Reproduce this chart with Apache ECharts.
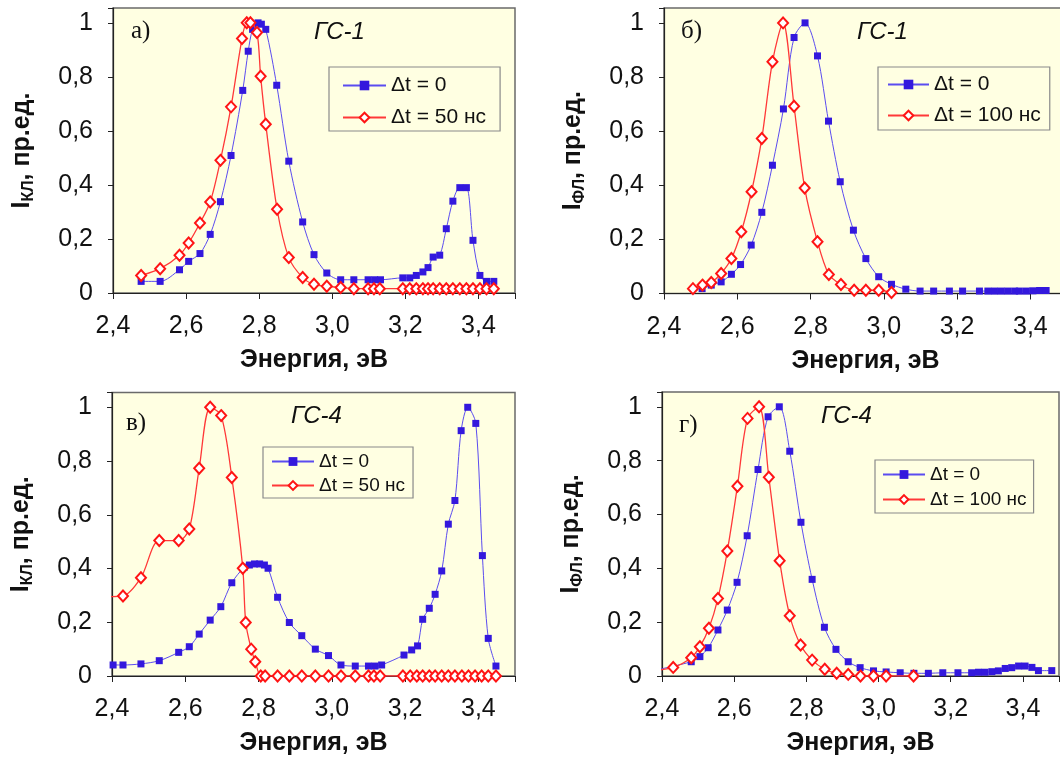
<!DOCTYPE html>
<html><head><meta charset="utf-8">
<script src="https://cdn.jsdelivr.net/npm/echarts@6/dist/echarts.min.js"></script>
<style>html,body{margin:0;padding:0;background:#fff}#c{width:1060px;height:760px}</style>
</head><body><div id="c"></div>
<script>
// ---- Tick labels ----
const xTicks = ['2,4','2,6','2,8','3,0','3,2','3,4'];
const yTicks = ['0','0,2','0,4','0,6','0,8','1'];
const series0Name = 'Δt = 0';
const seriesBName = 'Δt = 50 нс';
const seriesDName = 'Δt = 100 нс';

// ---- Panel а) ГС-1, КЛ ----
const aE0 = [2.477,2.529,2.582,2.607,2.638,2.666,2.694,2.723,2.755,2.770,2.782,2.797,2.806,2.818,2.848,2.881,2.919,2.950,2.985,3.023,3.059,3.098,3.116,3.132,3.193,3.212,3.230,3.248,3.262,3.276,3.294,3.312,3.330,3.349,3.367,3.385,3.404,3.422,3.442];
const aI0 = [0.043,0.043,0.086,0.117,0.146,0.217,0.338,0.509,0.750,0.895,0.976,1.0,0.995,0.976,0.769,0.488,0.263,0.142,0.074,0.049,0.049,0.049,0.049,0.049,0.056,0.056,0.065,0.078,0.094,0.133,0.140,0.238,0.340,0.390,0.390,0.195,0.065,0.043,0.043];
const aE1 = [2.477,2.529,2.582,2.607,2.638,2.666,2.694,2.723,2.753,2.766,2.776,2.794,2.804,2.818,2.849,2.881,2.919,2.950,2.985,3.023,3.059,3.098,3.114,3.130,3.193,3.212,3.230,3.248,3.262,3.276,3.294,3.312,3.330,3.349,3.367,3.385,3.404,3.422,3.442];
const aI1 = [0.065,0.090,0.140,0.185,0.259,0.337,0.491,0.689,0.942,1.0,1.0,0.964,0.802,0.625,0.310,0.131,0.057,0.032,0.025,0.020,0.016,0.016,0.016,0.016,0.016,0.016,0.016,0.016,0.016,0.016,0.016,0.016,0.016,0.016,0.016,0.016,0.016,0.016,0.016];

// ---- Panel б) ГС-1, ФЛ ----
const bE0 = [2.504,2.529,2.556,2.584,2.609,2.638,2.667,2.696,2.726,2.755,2.785,2.819,2.849,2.881,2.917,2.951,2.986,3.021,3.060,3.099,3.136,3.179,3.215,3.261,3.284,3.302,3.320,3.338,3.357,3.370,3.389,3.407,3.425,3.443];
const bI0 = [0.018,0.031,0.043,0.071,0.107,0.179,0.300,0.474,0.682,0.946,1.0,0.878,0.637,0.413,0.234,0.129,0.062,0.034,0.016,0.009,0.009,0.009,0.009,0.009,0.009,0.009,0.009,0.009,0.009,0.009,0.009,0.010,0.011,0.011];
const bE1 = [2.479,2.505,2.529,2.556,2.584,2.611,2.639,2.667,2.696,2.725,2.755,2.784,2.819,2.850,2.883,2.919,2.951,2.986,3.021];
const bI1 = [0.018,0.031,0.041,0.074,0.129,0.228,0.376,0.573,0.856,1.0,0.692,0.390,0.191,0.070,0.033,0.012,0.012,0.012,0.004];

// ---- Panel в) ГС-4, КЛ ----
const cE0 = [2.403,2.430,2.479,2.529,2.582,2.611,2.638,2.668,2.697,2.727,2.761,2.775,2.789,2.803,2.816,2.826,2.852,2.884,2.918,2.955,2.991,3.025,3.064,3.100,3.118,3.136,3.197,3.218,3.234,3.248,3.266,3.282,3.300,3.318,3.336,3.353,3.371,3.393,3.411,3.427,3.448];
const cI0 = [0.041,0.041,0.045,0.057,0.088,0.109,0.156,0.208,0.258,0.347,0.405,0.413,0.417,0.417,0.413,0.401,0.293,0.199,0.150,0.100,0.076,0.041,0.037,0.037,0.037,0.041,0.078,0.097,0.112,0.211,0.252,0.304,0.391,0.565,0.653,0.913,1.0,0.940,0.448,0.140,0.037];
const cE1 = [2.375,2.430,2.479,2.529,2.582,2.611,2.638,2.668,2.698,2.727,2.757,2.765,2.780,2.791,2.806,2.818,2.852,2.884,2.918,2.955,2.991,3.025,3.064,3.100,3.115,3.132,3.194,3.214,3.232,3.248,3.266,3.282,3.300,3.318,3.336,3.355,3.373,3.391,3.409,3.427,3.448];
const cI1 = [0.295,0.298,0.366,0.504,0.504,0.547,0.773,1.0,0.969,0.739,0.401,0.199,0.100,0.053,0,0,0,0,0,0,0,0,0,0,0,0,0,0,0,0,0,0,0,0,0,0,0,0,0,0,0];

// ---- Panel г) ГС-4, ФЛ ----
const dE0 = [2.375,2.481,2.505,2.528,2.555,2.581,2.608,2.636,2.666,2.694,2.725,2.754,2.785,2.816,2.850,2.882,2.916,2.949,2.986,3.021,3.060,3.098,3.138,3.178,3.220,3.258,3.277,3.295,3.314,3.332,3.351,3.369,3.388,3.406,3.425,3.443,3.480];
const dI0 = [0.020,0.053,0.072,0.105,0.171,0.245,0.348,0.521,0.767,0.963,1.0,0.835,0.571,0.359,0.181,0.099,0.053,0.031,0.019,0.015,0.012,0.010,0.010,0.012,0.012,0.012,0.014,0.014,0.016,0.019,0.028,0.031,0.037,0.037,0.032,0.020,0.020];
const dE1 = [2.375,2.431,2.481,2.505,2.530,2.555,2.581,2.609,2.637,2.669,2.696,2.726,2.754,2.784,2.816,2.851,2.884,2.916,2.950,2.986,3.021,3.097];
const dI1 = [0.020,0.032,0.068,0.109,0.177,0.288,0.464,0.705,0.957,1.0,0.738,0.428,0.224,0.115,0.059,0.025,0.010,0.006,0,0,0,0];

// ---- build ----
function pairs(e, v) { return e.map((x, k) => [x, v[k]]); }
const X_MIN = 2.4, X_MAX = 3.5, Y_MAX = 1.055;
const FONT = '"Liberation Sans", Arial, sans-serif';
const BG = '#ffffe2';

const grids = [
  {left: 113, top: 8,   width: 402, height: 285},
  {left: 664, top: 8,   width: 403, height: 285.5},
  {left: 112, top: 392.5, width: 403, height: 283.5},
  {left: 662, top: 392, width: 397, height: 284}
];
const yNames = ['КЛ', 'ФЛ', 'КЛ', 'ФЛ'];
const panelData = [
  [aE0, aI0, aE1, aI1, seriesBName],
  [bE0, bI0, bE1, bI1, seriesDName],
  [cE0, cI0, cE1, cI1, seriesBName],
  [dE0, dI0, dE1, dI1, seriesDName]
];

function xFmt(v) {
  const k = Math.round((v - X_MIN) / 0.2);
  if (Math.abs(v - (X_MIN + k * 0.2)) > 1e-6 || k >= xTicks.length) return '';
  return xTicks[k];
}
function yFmt(v) {
  const k = Math.round(v / 0.2);
  if (Math.abs(v - k * 0.2) > 1e-6 || k >= yTicks.length) return '';
  return yTicks[k];
}

const option = {
  animation: false,
  backgroundColor: '#ffffff',
  grid: grids.map(g => Object.assign({show: true, backgroundColor: BG, borderColor: '#6a6a6a', borderWidth: 1.5, containLabel: false, outerBoundsMode: 'none'}, g)),
  xAxis: grids.map((g, i) => ({
    type: 'value', gridIndex: i, min: X_MIN, max: X_MAX, interval: 0.2,
    axisLine: {show: true, onZero: false, lineStyle: {color: '#222', width: 1.2}},
    axisTick: {show: true, inside: false, length: 6, lineStyle: {color: '#222'}},
    axisLabel: {formatter: xFmt, margin: 21, fontSize: 25, color: '#111', fontFamily: FONT, showMaxLabel: true},
    splitLine: {show: false},
    name: 'Энергия, эВ', nameLocation: 'middle', nameGap: 55, nameMoveOverlap: false,
    nameTextStyle: {fontSize: 25, fontWeight: 'bold', color: '#111', fontFamily: FONT}
  })),
  yAxis: grids.map((g, i) => ({
    type: 'value', gridIndex: i, min: 0, max: Y_MAX, interval: 0.2,
    axisLine: {show: true, onZero: false, lineStyle: {color: '#222', width: 1.2}},
    axisTick: {show: true, inside: false, length: 5, lineStyle: {color: '#222'}},
    axisLabel: {formatter: yFmt, margin: 20, fontSize: 25, color: '#111', fontFamily: FONT},
    splitLine: {show: false},
    name: '{a|I}{b|' + yNames[i] + '}{a|, пр.ед.}', nameLocation: 'middle', nameGap: 76, nameRotate: 90, nameMoveOverlap: false,
    nameTextStyle: {
      color: '#111',
      rich: {
        a: {fontSize: 25, fontWeight: 'bold', fontFamily: FONT, color: '#111'},
        b: {fontSize: 16, fontWeight: 'bold', fontFamily: FONT, color: '#111', padding: [14, 0, 0, 0]}
      }
    }
  })),
  legend: [
    {left: 329, top: 67, padding: [8, 14, 3, 13], itemGap: 11, itemWidth: 43, itemHeight: 12, fontSize: 21},
    {left: 878, top: 67, padding: [7, 9, 4, 9], itemGap: 10, itemWidth: 41, itemHeight: 12, fontSize: 21},
    {left: 263, top: 447, padding: [5, 8, 3, 8], itemGap: 5, itemWidth: 42, itemHeight: 11, fontSize: 19},
    {left: 875, top: 460, padding: [5, 7, 4, 7], itemGap: 6, itemWidth: 42, itemHeight: 11, fontSize: 19}
  ].map((l, i) => ({
    data: [series0Name, panelData[i][4]], orient: 'vertical', left: l.left, top: l.top,
    padding: l.padding, itemGap: l.itemGap, itemWidth: l.itemWidth, itemHeight: l.itemHeight,
    backgroundColor: BG, borderColor: '#8a8a8a', borderWidth: 1.2, borderRadius: 0,
    selectedMode: false,
    textStyle: {fontSize: l.fontSize, color: '#111', fontFamily: FONT}
  })),
  series: [],
  graphic: [
    {type: 'text', left: 131, top: 19, style: {text: 'а)', font: '25px "Liberation Serif", serif', fill: '#111'}},
    {type: 'text', left: 314, top: 20, style: {text: 'ГС-1', font: 'italic 24px "Liberation Sans", Arial, sans-serif', fill: '#111'}},
    {type: 'text', left: 681, top: 19, style: {text: 'б)', font: '25px "Liberation Serif", serif', fill: '#111'}},
    {type: 'text', left: 857, top: 20, style: {text: 'ГС-1', font: 'italic 24px "Liberation Sans", Arial, sans-serif', fill: '#111'}},
    {type: 'text', left: 126, top: 411, style: {text: 'в)', font: '25px "Liberation Serif", serif', fill: '#111'}},
    {type: 'text', left: 291, top: 404, style: {text: 'ГС-4', font: 'italic 24px "Liberation Sans", Arial, sans-serif', fill: '#111'}},
    {type: 'text', left: 679, top: 413, style: {text: 'г)', font: '25px "Liberation Serif", serif', fill: '#111'}},
    {type: 'text', left: 821, top: 404, style: {text: 'ГС-4', font: 'italic 24px "Liberation Sans", Arial, sans-serif', fill: '#111'}}
  ]
};

panelData.forEach((p, i) => {
  option.series.push({
    type: 'line', name: series0Name, xAxisIndex: i, yAxisIndex: i,
    data: pairs(p[0], p[1]), smooth: 0.3, clip: true,
    symbol: 'rect', symbolSize: 7,
    lineStyle: {color: '#5b4cf0', width: 1},
    itemStyle: {color: '#3318dd'}, z: 3
  });
  option.series.push({
    type: 'line', name: p[4], xAxisIndex: i, yAxisIndex: i,
    data: pairs(p[2], p[3]), smooth: 0.3, clip: true,
    symbol: 'diamond', symbolSize: [10, 11],
    lineStyle: {color: '#ff3838', width: 1.3},
    itemStyle: {color: '#ffffff', borderColor: '#ff1414', borderWidth: 2}, z: 4
  });
});

const chart = echarts.init(document.getElementById('c'), null, {renderer: 'canvas'});
chart.setOption(option);
</script>
</body></html>
